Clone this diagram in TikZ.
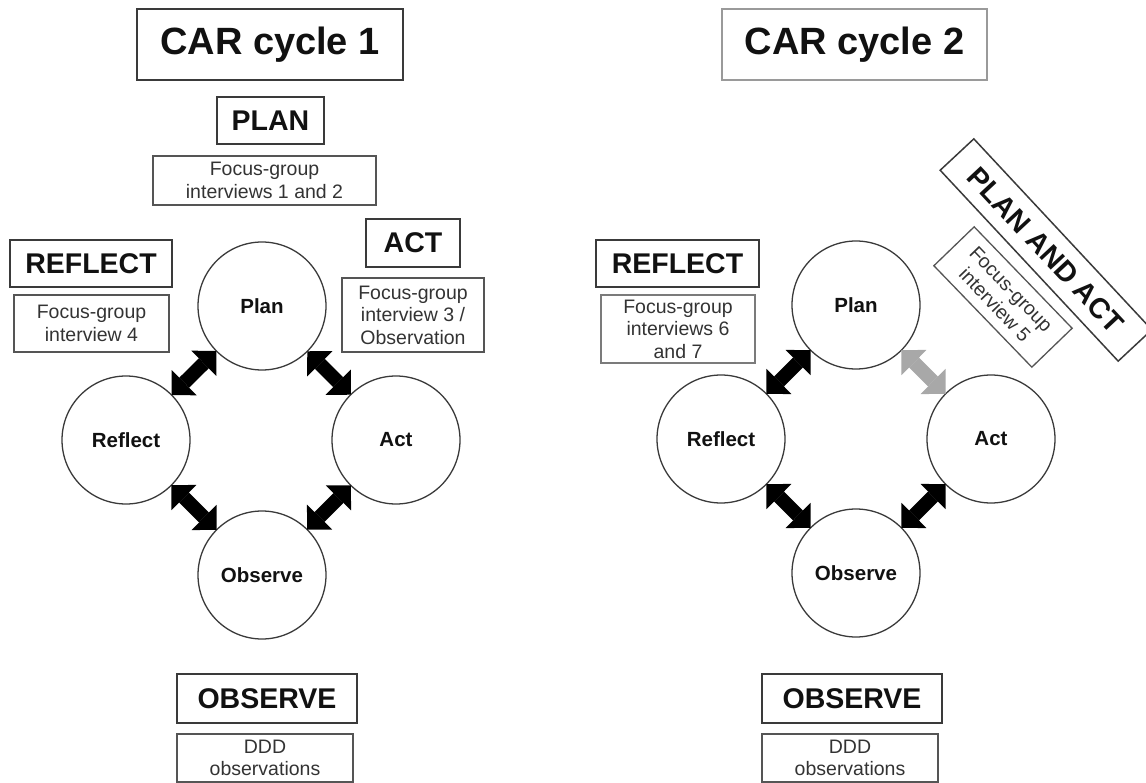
\documentclass[tikz,border=0pt]{standalone}
\usepackage{fontspec}
\setmainfont{Liberation Sans}
\usetikzlibrary{arrows.meta}
\definecolor{ink}{HTML}{111111}
\definecolor{notetext}{HTML}{333333}
\definecolor{boxline}{HTML}{3A3A3A}
\definecolor{noteline}{HTML}{555555}
\definecolor{lightline}{HTML}{9A9A9A}
\definecolor{grayarrow}{HTML}{A8A8A8}
\begin{document}
\begin{tikzpicture}[x=1pt,y=-1pt,
  titlebox/.style={draw=boxline,line width=1.5pt,inner sep=0pt,text=ink,
    minimum width=266pt,minimum height=71pt,font=\fontsize{38}{44}\selectfont\bfseries},
  headbox/.style={draw=boxline,line width=1.5pt,inner sep=0pt,text=ink,
    minimum height=47pt,font=\fontsize{28.5}{33}\selectfont\bfseries},
  notebox/.style={draw=noteline,line width=1.3pt,inner sep=0pt,text=notetext,align=center,
    font=\fontsize{19.5}{22.5}\selectfont},
  stage/.style={circle,draw=boxline,line width=1.3pt,minimum size=128pt,inner sep=0pt,outer sep=0pt,
    text=ink,font=\fontsize{20.5}{24}\selectfont\bfseries},
  link/.style={line width=14pt,draw=black,
    >={Triangle[width=35.5pt,length=17.7pt,line width=0pt]},<->},
]
\useasboundingbox (0,0) rectangle (1146,783);

% ---------- Cycle 1 ----------
\node[titlebox] (t1) at (270,44.5) {CAR cycle 1};
\node[headbox,minimum width=107pt] (hplan1) at (270.5,120.5) {PLAN};
\node[notebox,minimum width=223pt,minimum height=49pt] (n12) at (264.5,180.5) {Focus-group\\interviews 1 and 2};
\node[headbox,minimum width=162pt] (hrefl1) at (91,263.5) {REFLECT};
\node[notebox,minimum width=155pt,minimum height=57pt] (n4) at (91.5,323.5) {Focus-group\\interview 4};
\node[headbox,minimum width=94pt,minimum height=48pt] (hact1) at (413,243) {ACT};
\node[notebox,minimum width=142pt,minimum height=74pt] (n3) at (413,315) {Focus-group\\interview 3 /\\Observation};
\node[headbox,minimum width=180pt,minimum height=49pt] (hobs1) at (267,698.5) {OBSERVE};
\node[notebox,minimum width=176pt,minimum height=48pt] (ddd1) at (265,758) {DDD\\observations};

\node[stage] (pl1) at (262,306) {Plan};
\node[stage] (rf1) at (126,440) {Reflect};
\node[stage] (ac1) at (396,440) {Act};
\node[stage] (ob1) at (262,575) {Observe};

\draw[link] (rf1) -- (pl1);
\draw[link] (pl1) -- (ac1);
\draw[link] (rf1) -- (ob1);
\draw[link] (ob1) -- (ac1);

% ---------- Cycle 2 ----------
\node[titlebox,draw=lightline,minimum width=265pt] (t2) at (854.5,44.5) {CAR cycle 2};
\node[headbox,minimum width=163pt] (hrefl2) at (677.5,263.5) {REFLECT};
\node[notebox,draw=lightline!80!black,minimum width=154pt,minimum height=68pt] (n67) at (678,329) {Focus-group\\interviews 6\\and 7};
\node[headbox,minimum width=261pt,minimum height=46pt,rotate=-47] (hpa) at (1046,250) {PLAN AND ACT};
\node[notebox,minimum width=141pt,minimum height=56pt,rotate=-46] (n5) at (1003,297) {Focus-group\\interview 5};
\node[headbox,minimum width=180pt,minimum height=49pt] (hobs2) at (852,698.5) {OBSERVE};
\node[notebox,minimum width=176pt,minimum height=48pt] (ddd2) at (850,758) {DDD\\observations};

\node[stage] (pl2) at (856,305) {Plan};
\node[stage] (rf2) at (721,439) {Reflect};
\node[stage] (ac2) at (991,439) {Act};
\node[stage] (ob2) at (856,573) {Observe};

\draw[link] (rf2) -- (pl2);
\draw[link,draw=grayarrow] (pl2) -- (ac2);
\draw[link] (rf2) -- (ob2);
\draw[link] (ob2) -- (ac2);
\end{tikzpicture}
\end{document}
